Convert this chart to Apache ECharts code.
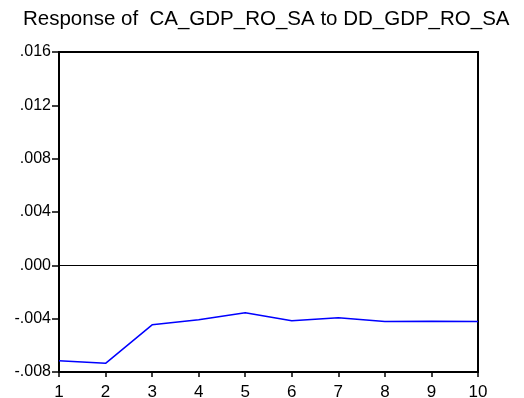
<!DOCTYPE html>
<html><head><meta charset="utf-8">
<script src="https://cdn.jsdelivr.net/npm/echarts@6/dist/echarts.min.js"></script>
<style>html,body{margin:0;padding:0;background:#fff}#c{width:524px;height:398px}</style>
</head><body><div id="c"></div>
<script>
const periods = ['1','2','3','4','5','6','7','8','9','10'];
const response = [-0.00715, -0.00735, -0.00446, -0.00408, -0.00356, -0.00416, -0.00393, -0.00421, -0.00419, -0.00422];
const titleText = 'Response of  CA_GDP_RO_SA to DD_GDP_RO_SA';

function fmt(v){
  const r = Math.round(v*1000)/1000;
  let s = Math.abs(r).toFixed(3).replace(/^0/, '');
  return (r < 0 ? '-' : '') + s;
}
const chart = echarts.init(document.getElementById('c'), null, {renderer:'canvas'});
chart.setOption({
  animation:false,
  title:{text:titleText, left:18, top:4, textStyle:{fontFamily:'Liberation Sans, Arial', fontSize:20.5, fontWeight:'normal', color:'#000'}},
  grid:{left:59, right:46, top:52, bottom:26, outerBoundsMode:'none', containLabel:false, show:true, borderColor:'#000', borderWidth:2, backgroundColor:'transparent'},
  xAxis:{type:'category', data:periods, boundaryGap:false,
    axisLine:{show:true, onZero:false, lineStyle:{color:'#000', width:2}},
    axisTick:{show:true, length:5, alignWithLabel:true, lineStyle:{color:'#000', width:1.5}},
    axisLabel:{color:'#000', fontFamily:'Liberation Sans, Arial', fontSize:17, margin:12},
    splitLine:{show:false}},
  yAxis:{type:'value', min:-0.008, max:0.016, interval:0.004,
    axisLine:{show:true, lineStyle:{color:'#000', width:2}},
    axisTick:{show:true, length:7, lineStyle:{color:'#000', width:1.5}},
    axisLabel:{color:'#000', fontFamily:'Liberation Sans, Arial', fontSize:16, margin:8, padding:[0,0,6,0], formatter:fmt},
    splitLine:{show:false}},
  series:[{type:'line', data:response, symbol:'none', lineStyle:{color:'#0000FF', width:1.5},
    markLine:{silent:true, symbol:'none', label:{show:false}, lineStyle:{color:'#000', width:1, type:'solid'}, data:[{yAxis:0}]}}]
});
</script></body></html>
